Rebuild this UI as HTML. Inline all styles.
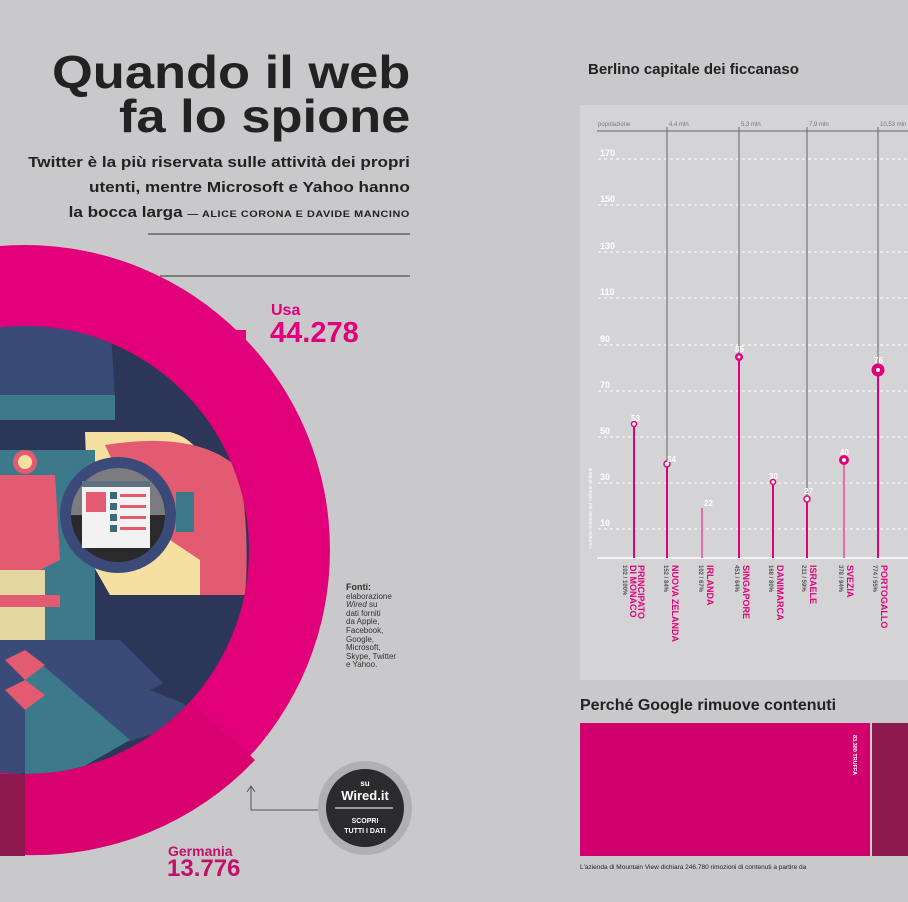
<!DOCTYPE html>
<html><head><meta charset="utf-8"><style>
html,body{margin:0;padding:0}
body{width:908px;height:902px;background:#c9c9cb;position:relative;overflow:hidden;font-family:"Liberation Sans",sans-serif}
.a{position:absolute}
</style></head><body>

<svg class="a" style="left:0;top:0" width="908" height="902">
<defs><clipPath id="ic"><circle cx="25" cy="550" r="224"/></clipPath></defs>
<circle cx="25" cy="550" r="305" fill="#e2007a"/>
<path d="M25 550 L255 760 A305 305 0 0 1 25 855 Z" fill="#d9006f"/>
<rect x="0" y="774" width="25" height="82" fill="#8e1a4f"/>
<rect x="228" y="330" width="18" height="18" fill="#e2007a"/>
<g clip-path="url(#ic)">
<rect x="0" y="300" width="260" height="500" fill="#2b3659"/>
<path d="M0 310 Q40 300 60 320 Q85 305 110 315 L115 400 L0 400Z" fill="#3a4b77"/>
<rect x="0" y="395" width="115" height="25" fill="#3c7a8b"/>
<rect x="0" y="420" width="180" height="6" fill="#2b3659"/>
<path d="M85 432 L170 432 Q200 440 205 470 L205 595 L110 595 L90 560Z" fill="#f5e0a2"/>
<path d="M105 445 Q200 430 240 470 Q250 540 245 595 L200 595 L200 560 L140 520Z" fill="#e35b70"/>
<rect x="0" y="450" width="95" height="200" fill="#3c7a8b"/>
<path d="M0 475 L55 475 L60 560 L40 570 L0 570Z" fill="#e35b70"/>
<rect x="0" y="570" width="45" height="80" fill="#f5e0a2" opacity=".9"/>
<rect x="0" y="595" width="60" height="12" fill="#e35b70"/>
<circle cx="25" cy="462" r="12" fill="#e35b70"/><circle cx="25" cy="462" r="7" fill="#f5e0a2"/>
<path d="M0 640 L120 640 L200 720 L0 780Z" fill="#3a4b77"/>
<path d="M25 650 L130 740 L25 800Z" fill="#3c7a8b"/>
<path d="M150 690 L210 660 L200 710Z" fill="#2b3659"/>
<path d="M5 660 L25 650 L45 665 L25 680Z M5 690 L25 680 L45 695 L25 710Z" fill="#e35b70"/>
<circle cx="118" cy="515" r="58" fill="#3b4a78"/>
<circle cx="118" cy="515" r="47" fill="#2a2a2c"/>
<path d="M71 515 A47 47 0 0 1 165 515Z" fill="#7c7c80"/>
<rect x="82" y="481" width="68" height="67" fill="#f2f2f2"/>
<rect x="82" y="481" width="68" height="6" fill="#5f7080"/>
<rect x="86" y="492" width="20" height="20" fill="#e35b70"/>
<rect x="110" y="492" width="7" height="7" fill="#3c6a7b"/><rect x="110" y="503" width="7" height="7" fill="#3c6a7b"/><rect x="110" y="514" width="7" height="7" fill="#3c6a7b"/><rect x="110" y="525" width="7" height="7" fill="#3c6a7b"/>
<rect x="120" y="494" width="26" height="3" fill="#e35b70"/><rect x="120" y="505" width="26" height="3" fill="#e35b70"/><rect x="120" y="516" width="26" height="3" fill="#e35b70"/><rect x="120" y="527" width="26" height="3" fill="#e35b70"/>
<rect x="176" y="492" width="18" height="40" fill="#3c7a8b"/>
</g>
<line x1="148" y1="234" x2="410" y2="234" stroke="#666" stroke-width="1.5"/>
<line x1="160" y1="276" x2="410" y2="276" stroke="#666" stroke-width="1.5"/>
<polyline points="251,786 251,810 318,810" fill="none" stroke="#555" stroke-width="1"/>
<polyline points="247,792 251,786 255,792" fill="none" stroke="#555" stroke-width="1"/>
<circle cx="365" cy="808" r="47" fill="#b0b0b2"/>
<circle cx="365" cy="808" r="39" fill="#2b2b2d"/>
<line x1="335" y1="808" x2="393" y2="808" stroke="#999" stroke-width="2"/>
<text x="365" y="786" fill="#fff" font-size="8" font-weight="bold" text-anchor="middle">su</text>
<text x="365" y="800" fill="#fff" font-size="13" font-weight="bold" text-anchor="middle">Wired.it</text>
<text x="365" y="823" fill="#fff" font-size="7" font-weight="bold" text-anchor="middle">SCOPRI</text>
<text x="365" y="833" fill="#fff" font-size="7" font-weight="bold" text-anchor="middle">TUTTI I DATI</text>
</svg>

<div class="a" style="right:498px;top:50px;text-align:right;color:#222;font-weight:bold;font-size:46px;line-height:44px;white-space:nowrap;transform:scaleX(1.14);transform-origin:right top">Quando il web<br>fa lo spione</div>
<div class="a" style="right:498px;top:150px;text-align:right;color:#222;font-weight:bold;font-size:15px;line-height:25px;white-space:nowrap;transform:scaleX(1.14);transform-origin:right top">Twitter è la più riservata sulle attività dei propri<br>utenti, mentre Microsoft e Yahoo hanno<br>la bocca larga <span style="font-size:9.5px;letter-spacing:0.5px">— ALICE CORONA E DAVIDE MANCINO</span></div>
<div class="a" style="left:271px;top:303px;color:#e2007a;font-weight:bold;font-size:16px;line-height:16px">Usa</div>
<div class="a" style="left:270px;top:318px;color:#e2007a;font-weight:bold;font-size:29px;line-height:30px">44.278</div>
<div class="a" style="left:168px;top:844px;color:#c0106a;font-weight:bold;font-size:14px;line-height:14px">Germania</div>
<div class="a" style="left:167px;top:856px;color:#c0106a;font-weight:bold;font-size:24px;line-height:26px">13.776</div>
<div class="a" style="left:346px;top:583px;color:#333;font-size:8px;line-height:8.6px"><b style="font-size:9px">Fonti:</b><br>elaborazione<br><i>Wired</i> su<br>dati forniti<br>da Apple,<br>Facebook,<br>Google,<br>Microsoft,<br>Skype, Twitter<br>e Yahoo.</div>

<div class="a" style="left:588px;top:61px;font-size:15px;font-weight:bold;color:#222">Berlino capitale dei ficcanaso</div>
<div class="a" style="left:580px;top:105px;width:328px;height:575px;background:#d4d4d6"></div>
<svg class="a" style="left:0;top:0" width="908" height="902">
<g font-size="6" fill="#777"><text x="598" y="126">popolazione</text><text x="669" y="126">4,4 mln</text><text x="741" y="126">5,3 mln</text><text x="809" y="126">7,9 mln</text><text x="880" y="126">10,53 mln</text></g>
<line x1="597" y1="131" x2="908" y2="131" stroke="#666" stroke-width="1"/>
<g stroke="#fff" stroke-width="1" stroke-dasharray="3,3">
<line x1="598" y1="159" x2="908" y2="159"/><line x1="598" y1="205" x2="908" y2="205"/><line x1="598" y1="252" x2="908" y2="252"/><line x1="598" y1="298" x2="908" y2="298"/><line x1="598" y1="345" x2="908" y2="345"/><line x1="598" y1="391" x2="908" y2="391"/><line x1="598" y1="437" x2="908" y2="437"/><line x1="598" y1="483" x2="908" y2="483"/><line x1="598" y1="529" x2="908" y2="529"/>
</g>
<g fill="#fff" font-size="9" font-weight="bold"><text x="600" y="156">170</text><text x="600" y="202">150</text><text x="600" y="249">130</text><text x="600" y="295">110</text><text x="600" y="342">90</text><text x="600" y="388">70</text><text x="600" y="434">50</text><text x="600" y="480">30</text><text x="600" y="526">10</text></g>
<text transform="translate(592,548) rotate(-90)" font-size="5" fill="#fff">numero richieste per milione abitanti</text>
<g stroke="#666" stroke-width="1"><line x1="667" y1="127" x2="667" y2="462"/><line x1="739" y1="127" x2="739" y2="357"/><line x1="807" y1="127" x2="807" y2="498"/><line x1="878" y1="127" x2="878" y2="370"/></g>
<line x1="597" y1="558" x2="908" y2="558" stroke="#fff" stroke-width="1.5"/>
<g stroke="#e2007a" stroke-width="2">
<line x1="634" y1="424" x2="634" y2="558"/><line x1="667" y1="464" x2="667" y2="558"/><line x1="702" y1="508" x2="702" y2="558" stroke="#e86aa8"/><line x1="739" y1="357" x2="739" y2="558"/><line x1="773" y1="482" x2="773" y2="558"/><line x1="807" y1="499" x2="807" y2="558"/><line x1="844" y1="460" x2="844" y2="558" stroke="#e86aa8"/><line x1="878" y1="370" x2="878" y2="558"/>
</g>
<g fill="#fff" stroke="#e2007a" stroke-width="1.5"><circle cx="634" cy="424" r="2.5"/><circle cx="667" cy="464" r="3"/><circle cx="773" cy="482" r="2.5"/><circle cx="807" cy="499" r="3"/></g>
<circle cx="739" cy="357" r="4" fill="#e2007a"/><circle cx="739" cy="357" r="1.5" fill="#fff"/>
<circle cx="844" cy="460" r="5" fill="#e2007a"/><circle cx="844" cy="460" r="2" fill="#fff"/>
<circle cx="878" cy="370" r="6.5" fill="#e2007a"/><circle cx="878" cy="370" r="2" fill="#fff"/>
<g fill="#fff" font-size="8" font-weight="bold"><text x="631" y="421">53</text><text x="667" y="462">34</text><text x="704" y="506">22</text><text x="735" y="352">85</text><text x="769" y="479">30</text><text x="804" y="494">27</text><text x="840" y="455">40</text><text x="874" y="363">76</text></g>
<g font-weight="bold">
<text transform="translate(638,565) rotate(90)" font-size="9" fill="#e2007a">PRINCIPATO<tspan x="0" dy="8">DI MONACO</tspan></text>
<text transform="translate(623,565) rotate(90)" font-size="6" fill="#555">102 / 100%</text>
<text transform="translate(672,565) rotate(90)" font-size="9" fill="#e2007a">NUOVA ZELANDA</text>
<text transform="translate(664,565) rotate(90)" font-size="6" fill="#555">152 / 84%</text>
<text transform="translate(707,565) rotate(90)" font-size="9" fill="#e2007a">IRLANDA</text>
<text transform="translate(699,565) rotate(90)" font-size="6" fill="#555">102 / 67%</text>
<text transform="translate(743,565) rotate(90)" font-size="9" fill="#e2007a">SINGAPORE</text>
<text transform="translate(735,565) rotate(90)" font-size="6" fill="#555">451 / 64%</text>
<text transform="translate(777,565) rotate(90)" font-size="9" fill="#e2007a">DANIMARCA</text>
<text transform="translate(769,565) rotate(90)" font-size="6" fill="#555">168 / 80%</text>
<text transform="translate(810,565) rotate(90)" font-size="9" fill="#e2007a">ISRAELE</text>
<text transform="translate(802,565) rotate(90)" font-size="6" fill="#555">211 / 59%</text>
<text transform="translate(847,565) rotate(90)" font-size="9" fill="#e2007a">SVEZIA</text>
<text transform="translate(839,565) rotate(90)" font-size="6" fill="#555">378 / 94%</text>
<text transform="translate(881,565) rotate(90)" font-size="9" fill="#e2007a">PORTOGALLO</text>
<text transform="translate(873,565) rotate(90)" font-size="6" fill="#555">774 / 55%</text>
</g>
<rect x="580" y="723" width="290" height="133" fill="#d1006e"/>
<rect x="872" y="723" width="36" height="133" fill="#8e1a4f"/>
<text transform="translate(853,735) rotate(90)" font-size="5.5" font-weight="bold" fill="#fff">83.380 TRUFFA</text>
</svg>
<div class="a" style="left:580px;top:697px;font-size:16px;font-weight:bold;color:#222">Perché Google rimuove contenuti</div>
<div class="a" style="left:580px;top:864px;font-size:6.5px;color:#222;white-space:nowrap">L'azienda di Mountain View dichiara 246.780 rimozioni di contenuti a partire da</div>
</body></html>
